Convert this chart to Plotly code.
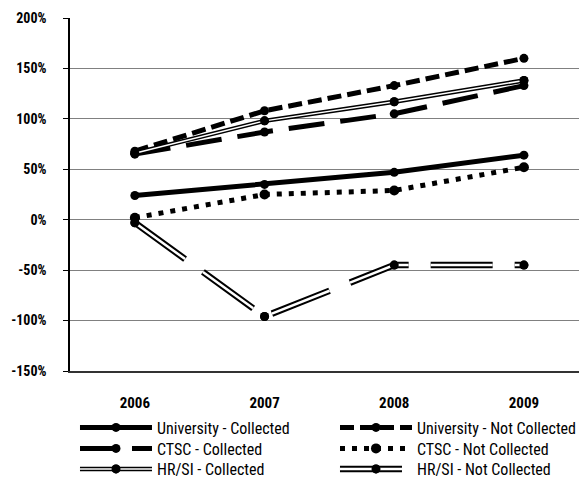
import plotly.graph_objects as go

years = ["2006", "2007", "2008", "2009"]
xpos = [0, 1, 2, 3]
ytick_values = [200, 150, 100, 50, 0, -50, -100, -150]
ytick_labels = ["200%", "150%", "100%", "50%", "0%", "-50%", "-100%", "-150%"]

univ_collected = [24, 35, 47, 64]
univ_not_collected = [68, 108, 133, 160]
ctsc_collected = [65, 87, 105, 133]
ctsc_not_collected = [2, 25, 29, 52]
hrsi_collected = [66, 98, 117, 138]
hrsi_not_collected = [-3, -96, -45, -45]

FONT = "Roboto Condensed, Liberation Sans Narrow, Liberation Sans, Arial, sans-serif"
BLACK = "black"

fig = go.Figure()

def add(name, y, width, dash, legend, msize=9):
    fig.add_trace(go.Scatter(
        x=xpos, y=y, name=name, mode="lines+markers",
        line=dict(color=BLACK, width=width, dash=dash),
        marker=dict(color=BLACK, size=msize, symbol="circle"),
        legend=legend, legendgroup=name, showlegend=True))

def add_inner(name, y, width, dash):
    fig.add_trace(go.Scatter(
        x=xpos, y=y, name=" ", mode="lines+markers",
        line=dict(color="white", width=width, dash=dash),
        marker=dict(color=BLACK, size=9, symbol="circle"),
        legend="legend2", legendgroup=name, showlegend=True, hoverinfo="skip"))

add("University - Collected", univ_collected, 5, "solid", "legend")
add("University - Not Collected", univ_not_collected, 5, "14px,6px", "legend")
add("CTSC - Collected", ctsc_collected, 5, "36px,16px", "legend3")
add("CTSC - Not Collected", ctsc_not_collected, 5, "5px,7px", "legend3", msize=10)
add("HR/SI - Collected", hrsi_collected, 4.5, "solid", "legend4")
add("HR/SI - Not Collected", hrsi_not_collected, 6.5, "62px,22px", "legend4")
add_inner("HR/SI - Collected", hrsi_collected, 1.5, "solid")
add_inner("HR/SI - Not Collected", hrsi_not_collected, 2.5, "62px,22px")

# layout (page body adds an 8px offset, compensated in margins)
ML, MT, MB = 62, 10, 119
W, H = 587, 482
PLOT_H = H - MT - MB
PLOT_BOTTOM = H - MB
XR = [-0.5, 3.548]
zero_pos = 150 / 350.0
ROW_CENTERS = [419.5, 440.5, 461]  # figure px
LEG_X = 0.0095
ENTRY_W = 173
ITEM_W = 72

def leg(row_center):
    return dict(orientation="h", x=LEG_X, xanchor="left",
                y=-(row_center - PLOT_BOTTOM) / PLOT_H, yanchor="middle",
                entrywidth=ENTRY_W, entrywidthmode="pixels",
                font=dict(family=FONT, size=16), bgcolor="rgba(0,0,0,0)",
                itemwidth=ITEM_W, tracegroupgap=0)

fig.update_layout(
    width=W, height=H,
    margin=dict(l=ML, r=0, t=MT, b=MB, autoexpand=False),
    paper_bgcolor="white", plot_bgcolor="white",
    font=dict(family=FONT, color="black", size=16),
    xaxis=dict(range=XR, tickmode="array", tickvals=xpos, ticktext=years,
               showgrid=False, zeroline=False, showline=True, linecolor="#333",
               linewidth=1.5, ticks="", ticklabelstandoff=17, automargin=False,
               ticklabeloverflow="allow",
               tickfont=dict(family=FONT, size=15, weight="bold")),
    xaxis2=dict(range=XR, overlaying="x", anchor="free", position=zero_pos,
                side="bottom", showgrid=False, zeroline=False, showline=True,
                linecolor="black", linewidth=1.5, tickmode="array",
                tickvals=[0.5, 1.5, 2.5], ticks="outside", ticklen=5,
                tickcolor="black", tickwidth=1.2, showticklabels=False),
    xaxis3=dict(range=XR, overlaying="x", anchor="free", position=zero_pos,
                side="bottom", showgrid=False, zeroline=False, showline=False,
                tickmode="array", tickvals=[0.5, 1.5, 2.5], ticks="inside",
                ticklen=6, tickcolor="black", tickwidth=1.2, showticklabels=False),
    yaxis=dict(range=[-150, 200], tickmode="array", tickvals=ytick_values,
               ticktext=ytick_labels,
               showgrid=True, gridcolor="#808080", gridwidth=1, zeroline=False,
               showline=True, linecolor="black", linewidth=1.5,
               ticks="outside", ticklen=5, tickcolor="black",
               ticklabelstandoff=14, automargin=False, ticklabeloverflow="allow",
               tickfont=dict(family=FONT, size=14, weight="bold")),
    legend=leg(ROW_CENTERS[0]),
    legend3=leg(ROW_CENTERS[1]),
    legend4=leg(ROW_CENTERS[2]),
    legend2=leg(ROW_CENTERS[2]),
    showlegend=True,
)

fig.write_html("out.html")
